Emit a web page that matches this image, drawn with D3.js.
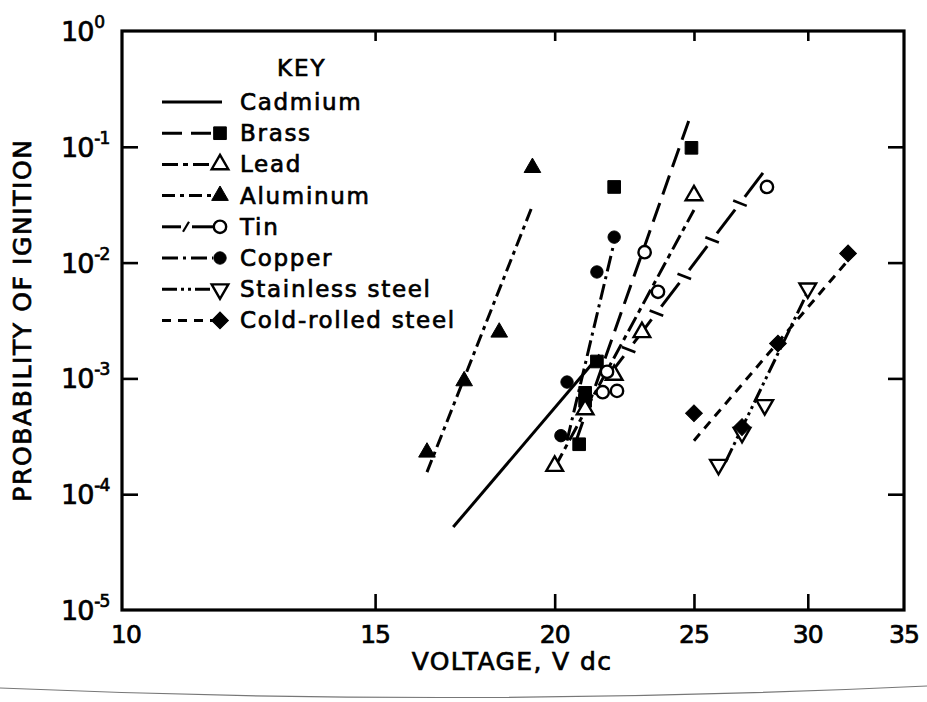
<!DOCTYPE html>
<html><head><meta charset="utf-8">
<script src="https://cdn.jsdelivr.net/npm/d3@7"></script>
<style>body{margin:0;background:#fff}svg{display:block}text{stroke:#000;stroke-width:0.7px}</style>
</head><body><svg id="c" width="927" height="702"></svg>
<script>
// ---------- data ----------
const xTickValues = [10, 15, 20, 25, 30, 35];
const yExponents = [0, -1, -2, -3, -4, -5];
const seriesNames = ["Cadmium", "Brass", "Lead", "Aluminum", "Tin", "Copper", "Stainless steel", "Cold-rolled steel"];

const cadmiumV = [];
const cadmiumP = [];
const cadmiumFitV = [17.0, 21.5];
const cadmiumFitP = [5.2e-5, 1.6e-3];

const brassV = [20.8, 21.0, 21.0, 21.4, 22.0, 24.9];
const brassP = [2.7e-4, 7.5e-4, 6.4e-4, 1.4e-3, 4.5e-2, 9.8e-2];
const brassFitV = [20.7, 24.8];
const brassFitP = [2.9e-4, 1.7e-1];

const leadV = [20.0, 21.0, 22.0, 23.0, 25.0];
const leadP = [1.75e-4, 5.4e-4, 1.07e-3, 2.5e-3, 3.8e-2];
const leadFitV = [20.0, 25.0];
const leadFitP = [1.7e-4, 2.85e-2];

const aluminumV = [16.3, 17.3, 18.3, 19.3];
const aluminumP = [2.3e-4, 9.5e-4, 2.5e-3, 6.6e-2];
const aluminumFitV = [16.3, 19.3];
const aluminumFitP = [1.55e-4, 3.1e-2];

const tinV = [21.6, 22.1, 21.75, 23.6, 23.1, 28.1];
const tinP = [7.6e-4, 7.8e-4, 1.14e-3, 5.6e-3, 1.23e-2, 4.5e-2];
const tinFitV = [21.7, 28.1];
const tinFitP = [9.7e-4, 6.6e-2];

const copperV = [20.2, 20.4, 21.4, 22.0];
const copperP = [3.2e-4, 9.3e-4, 8.3e-3, 1.66e-2];
const copperFitV = [20.4, 22.0];
const copperFitP = [2.9e-4, 1.5e-2];

const stainlessV = [26.0, 27.0, 28.0, 30.0];
const stainlessP = [1.8e-4, 3.4e-4, 5.9e-4, 6.0e-3];
const stainlessFitV = [26.3, 30.0];
const stainlessFitP = [1.9e-4, 5.6e-3];

const coldRolledV = [25.0, 27.0, 28.6, 32.0];
const coldRolledP = [5.0e-4, 3.8e-4, 2.0e-3, 1.2e-2];
const coldRolledFitV = [25.0, 31.9];
const coldRolledFitP = [2.9e-4, 1.0e-2];

// ---------- styles ----------
const styles = [
  {dash: null, marker: null},
  {dash: "20,9", marker: "square", fill: true},
  {dash: "16,5,5,5", marker: "tri", fill: false},
  {dash: "13,5,4,5", marker: "tri", fill: true},
  {dash: "tin", marker: "circle", fill: false},
  {dash: "16,5,3,5", marker: "circle", fill: true},
  {dash: "15,4,3,4,3,4", marker: "triDown", fill: false},
  {dash: "9,7", marker: "diamond", fill: true}
];
const series = [
  [cadmiumV, cadmiumP, cadmiumFitV, cadmiumFitP],
  [brassV, brassP, brassFitV, brassFitP],
  [leadV, leadP, leadFitV, leadFitP],
  [aluminumV, aluminumP, aluminumFitV, aluminumFitP],
  [tinV, tinP, tinFitV, tinFitP],
  [copperV, copperP, copperFitV, copperFitP],
  [stainlessV, stainlessP, stainlessFitV, stainlessFitP],
  [coldRolledV, coldRolledP, coldRolledFitV, coldRolledFitP]
].map((s, i) => ({name: seriesNames[i], v: s[0], p: s[1], fv: s[2], fp: s[3], ...styles[i]}));

// ---------- chart ----------
const svg = d3.select("#c");
const FONT = "DejaVu Sans, sans-serif";
const x = d3.scaleLog().domain([10, 35]).range([122, 904]);
const y = d3.scaleLog().domain([1e-5, 1]).range([610, 31]);

// scan edge line
svg.append("path").attr("d", "M0,688 Q460,708 927,686")
  .attr("fill", "none").attr("stroke", "#777").attr("stroke-width", 1.2);

// ticks
function styleAxis(g) {
  g.select(".domain").remove();
  g.selectAll(".tick line").attr("stroke", "#000").attr("stroke-width", 2.6);
  g.selectAll(".tick text").remove();
}
svg.append("g").attr("transform", "translate(0,610)")
  .call(d3.axisBottom(x).tickValues([15, 20, 25, 30]).tickSize(-16).tickFormat("")).call(styleAxis);
svg.append("g").attr("transform", "translate(0,31)")
  .call(d3.axisTop(x).tickValues([15, 20, 25, 30]).tickSize(-10).tickFormat("")).call(styleAxis);
const yTickVals = yExponents.slice(1, -1).map(e => Math.pow(10, e));
svg.append("g").attr("transform", "translate(122,0)")
  .call(d3.axisLeft(y).tickValues(yTickVals).tickSize(-16).tickFormat("")).call(styleAxis);
svg.append("g").attr("transform", "translate(904,0)")
  .call(d3.axisRight(y).tickValues(yTickVals).tickSize(-16).tickFormat("")).call(styleAxis);

// frame
svg.append("rect").attr("x", x(10)).attr("y", y(1)).attr("width", x(35) - x(10)).attr("height", y(1e-5) - y(1))
  .attr("fill", "none").attr("stroke", "#000").attr("stroke-width", 3.2);

// x tick labels
svg.append("g").selectAll("text").data(xTickValues).join("text")
  .attr("x", d => x(d) + (d === 10 ? 4 : 0)).attr("y", 643)
  .attr("text-anchor", "middle").attr("font-family", FONT).attr("font-size", 25)
  .attr("letter-spacing", -1).text(d => d);

// y tick labels
const yl = svg.append("g").selectAll("text").data(yExponents).join("text")
  .attr("x", 61).attr("y", d => y(Math.pow(10, d)) + 10)
  .attr("font-family", FONT).attr("font-size", 27).attr("letter-spacing", -1);
yl.append("tspan").text("10");
yl.append("tspan").attr("dy", -13).attr("font-size", 17).attr("dx", 1).text(d => d === 0 ? "0" : "-" + Math.abs(d));

// axis titles
svg.append("text").attr("transform", "translate(31,320) rotate(-90)")
  .attr("text-anchor", "middle").attr("font-family", FONT).attr("font-size", 25)
  .attr("letter-spacing", 1.6).text("PROBABILITY OF IGNITION");
svg.append("text").attr("x", 512).attr("y", 670)
  .attr("text-anchor", "middle").attr("font-family", FONT).attr("font-size", 25)
  .attr("letter-spacing", 1.4).text("VOLTAGE, V dc");

// fit lines
const lineG = svg.append("g");
function drawTin(g, x1, y1, x2, y2, dashLen, gapLen) {
  const L = Math.hypot(x2 - x1, y2 - y1);
  const ux = (x2 - x1) / L, uy = (y2 - y1) / L;
  let t = 0;
  while (t < L) {
    const e = Math.min(L, t + dashLen);
    g.append("line").attr("x1", x1 + ux * t).attr("y1", y1 + uy * t)
      .attr("x2", x1 + ux * e).attr("y2", y1 + uy * e)
      .attr("stroke", "#000").attr("stroke-width", 3);
    const c = e + gapLen / 2;
    if (c < L) {
      const px = -uy, py = ux;
      const a = 7;
      g.append("line").attr("x1", x1 + ux * c + px * a + ux * 2).attr("y1", y1 + uy * c + py * a + uy * 2)
        .attr("x2", x1 + ux * c - px * a - ux * 2).attr("y2", y1 + uy * c - py * a - uy * 2)
        .attr("stroke", "#000").attr("stroke-width", 2.6);
    }
    t = e + gapLen;
  }
}
series.forEach(s => {
  const x1 = x(s.fv[0]), y1 = y(s.fp[0]), x2 = x(s.fv[1]), y2 = y(s.fp[1]);
  if (s.dash === "tin") {
    drawTin(lineG, x1, y1, x2, y2, 30, 16);
  } else {
    lineG.append("line").attr("x1", x1).attr("y1", y1).attr("x2", x2).attr("y2", y2)
      .attr("stroke", "#000").attr("stroke-width", 3)
      .attr("stroke-dasharray", s.dash);
  }
});

// markers
function markerPath(type) {
  if (type === "square") return d3.symbol(d3.symbolSquare, 160)();
  if (type === "tri" || type === "triDown") return d3.symbol(d3.symbolTriangle, 120)();
  if (type === "circle") return d3.symbol(d3.symbolCircle, 120)();
  if (type === "diamond") return d3.symbol(d3.symbolSquare, 140)();
  return null;
}
function drawMarker(g, type, fill, cx, cy) {
  let rot = "";
  if (type === "triDown") rot = " rotate(180)";
  if (type === "diamond") rot = " rotate(45)";
  g.append("path").attr("d", markerPath(type))
    .attr("transform", `translate(${cx},${cy})` + rot)
    .attr("fill", fill ? "#000" : "#fff").attr("stroke", "#000")
    .attr("stroke-width", fill ? 1 : 2.4);
}
const markG = svg.append("g");
series.forEach(s => {
  s.v.forEach((v, i) => drawMarker(markG, s.marker, s.fill, x(v), y(s.p[i])));
});

// legend
const lg = svg.append("g");
lg.append("text").attr("x", 277).attr("y", 76).attr("font-family", FONT).attr("font-size", 23)
  .attr("letter-spacing", 2).text("KEY");
series.forEach((s, i) => {
  const by = 110 + i * 31.2;
  const cy = by - 8;
  const xEnd = s.marker ? 213 : 222;
  if (s.dash === "tin") {
    lg.append("line").attr("x1", 162).attr("y1", cy).attr("x2", 181).attr("y2", cy).attr("stroke", "#000").attr("stroke-width", 3);
    lg.append("line").attr("x1", 183).attr("y1", cy + 5).attr("x2", 189).attr("y2", cy - 5).attr("stroke", "#000").attr("stroke-width", 2.2);
    lg.append("line").attr("x1", 192).attr("y1", cy).attr("x2", xEnd).attr("y2", cy).attr("stroke", "#000").attr("stroke-width", 3);
  } else {
    lg.append("line").attr("x1", 162).attr("y1", cy).attr("x2", xEnd).attr("y2", cy)
      .attr("stroke", "#000").attr("stroke-width", 3).attr("stroke-dasharray", s.dash);
  }
  if (s.marker) drawMarker(lg, s.marker, s.fill, 220, cy);
  lg.append("text").attr("x", 240).attr("y", by).attr("font-family", FONT).attr("font-size", 23)
    .attr("letter-spacing", 1.7).text(s.name);
});
</script>
</body></html>
